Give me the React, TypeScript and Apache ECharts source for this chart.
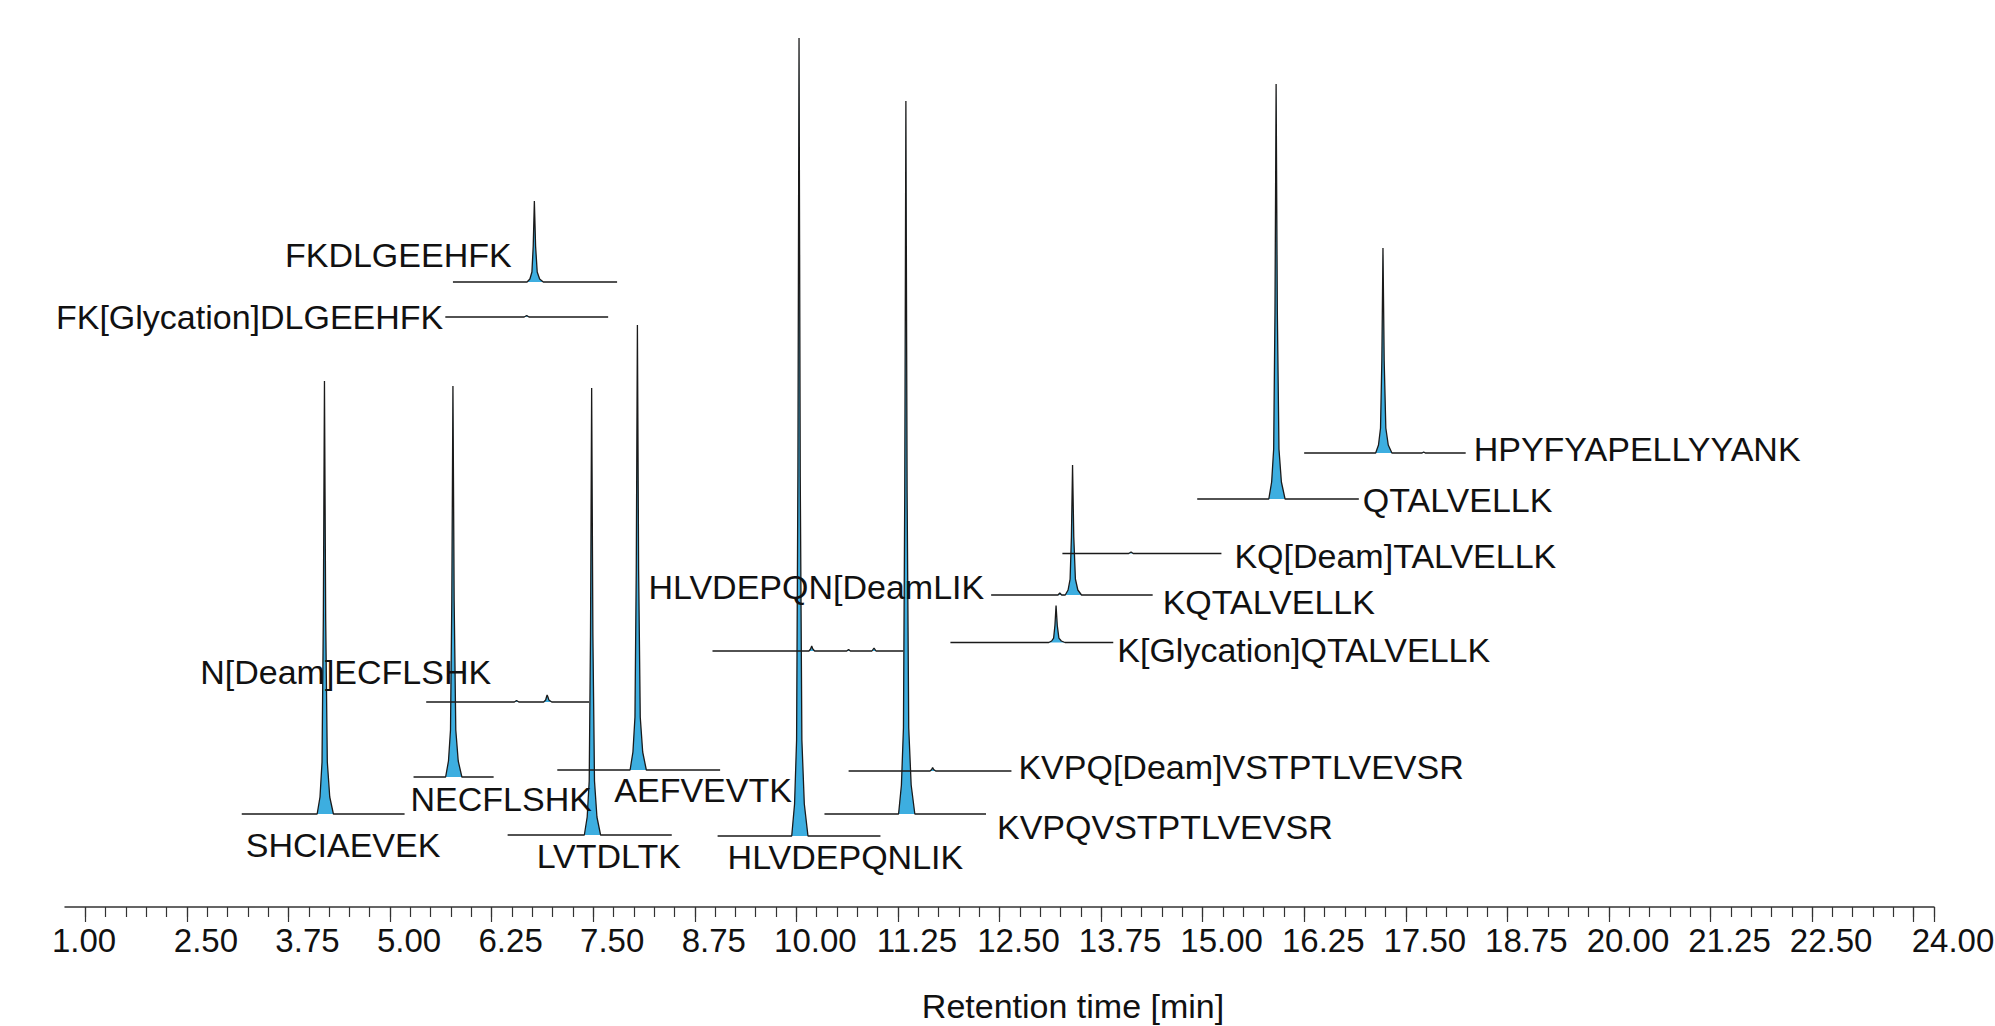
import React, { useEffect, useRef } from 'react';
import * as echarts from 'echarts';

const FONT = '"Liberation Sans", Arial, Helvetica, sans-serif';

// ---- Data: each trace is [retention time (min), intensity above its own baseline] ----
const SHCIAEVEK_TRACE = [[3.175, 0], [4.103, 0], [4.138, 17], [4.163, 52], [4.179, 195], [4.193, 433], [4.208, 195], [4.228, 52], [4.258, 17], [4.303, 0], [5.179, 0]];
const NECFLSHK_TRACE = [[5.289, 0], [5.684, 0], [5.719, 16], [5.744, 47], [5.76, 176], [5.774, 391], [5.789, 176], [5.809, 47], [5.839, 16], [5.884, 0], [6.275, 0]];
const N_DEAM_ECFLSHK_TRACE = [[5.445, 0], [6.53, 0], [6.557, 1.5], [6.585, 0], [6.89, 0], [6.915, 2], [6.925, 5], [6.933, 7], [6.943, 5], [6.955, 2], [6.99, 0], [7.449, 0]];
const FKDLGEEHFK_TRACE = [[5.774, 0], [6.686, 0], [6.721, 3], [6.746, 10], [6.762, 36], [6.776, 81], [6.791, 36], [6.811, 10], [6.841, 3], [6.886, 0], [7.794, 0]];
const FK_GLYC_DLGEEHFK_TRACE = [[5.68, 0], [6.65, 0], [6.682, 1.5], [6.71, 0], [7.684, 0]];
const LVTDLTK_TRACE = [[6.447, 0], [7.391, 0], [7.426, 18], [7.451, 54], [7.467, 201], [7.481, 447], [7.496, 201], [7.516, 54], [7.546, 18], [7.591, 0], [8.467, 0]];
const AEFVEVTK_TRACE = [[7.058, 0], [7.954, 0], [7.989, 18], [8.014, 53], [8.03, 200], [8.044, 445], [8.059, 200], [8.079, 53], [8.109, 18], [8.154, 0], [9.062, 0]];
const HLVDEPQNLIK_TRACE = [[9.031, 0], [9.943, 0], [9.978, 32], [10.003, 96], [10.019, 359], [10.033, 798], [10.048, 359], [10.068, 96], [10.098, 32], [10.143, 0], [11.035, 0]];
const HLVDEPQN_DEAM_TRACE = [[8.968, 0], [10.155, 0], [10.175, 2], [10.189, 5], [10.203, 2], [10.225, 0], [10.62, 0], [10.643, 1.5], [10.665, 0], [10.93, 0], [10.956, 3], [10.98, 0], [11.317, 0]];
const KVPQVSTPTLVEVSR_TRACE = [[10.346, 0], [11.258, 0], [11.293, 29], [11.318, 86], [11.334, 321], [11.348, 713], [11.363, 321], [11.383, 86], [11.413, 29], [11.458, 0], [12.334, 0]];
const KVPQ_DEAM_TRACE = [[10.643, 0], [11.645, 0], [11.665, 1.5], [11.677, 3.5], [11.69, 1.5], [11.715, 0], [12.647, 0]];
const K_GLYC_QTALVELLK_TRACE = [[11.896, 0], [13.106, 0], [13.141, 1.5], [13.166, 4.4], [13.182, 17], [13.196, 37], [13.211, 17], [13.231, 4.4], [13.261, 1.5], [13.306, 0], [13.9, 0]];
const KQTALVELLK_TRACE = [[12.397, 0], [13.22, 0], [13.242, 2], [13.265, 0], [13.309, 0], [13.344, 5], [13.369, 16], [13.385, 58], [13.399, 130], [13.414, 58], [13.434, 16], [13.464, 5], [13.509, 0], [14.385, 0]];
const KQ_DEAM_TRACE = [[13.274, 0], [14.09, 0], [14.119, 1.5], [14.145, 0], [15.231, 0]];
const QTALVELLK_TRACE = [[14.933, 0], [15.814, 0], [15.849, 17], [15.874, 50], [15.89, 187], [15.904, 415], [15.919, 187], [15.939, 50], [15.969, 17], [16.014, 0], [16.922, 0]];
const HPYFYAPELLYYANK_TRACE = [[16.249, 0], [17.129, 0], [17.164, 8], [17.189, 25], [17.205, 92], [17.219, 205], [17.234, 92], [17.254, 25], [17.284, 8], [17.329, 0], [17.7, 0], [17.72, 1], [17.74, 0], [18.237, 0]];

const PEPTIDES = [
  'SHCIAEVEK',
  'NECFLSHK',
  'N[Deam]ECFLSHK',
  'FKDLGEEHFK',
  'FK[Glycation]DLGEEHFK',
  'LVTDLTK',
  'AEFVEVTK',
  'HLVDEPQNLIK',
  'HLVDEPQN[DeamLIK',
  'KVPQVSTPTLVEVSR',
  'KVPQ[Deam]VSTPTLVEVSR',
  'K[Glycation]QTALVELLK',
  'KQTALVELLK',
  'KQ[Deam]TALVELLK',
  'QTALVELLK',
  'HPYFYAPELLYYANK',
];

const TRACES = [
  SHCIAEVEK_TRACE,
  NECFLSHK_TRACE,
  N_DEAM_ECFLSHK_TRACE,
  FKDLGEEHFK_TRACE,
  FK_GLYC_DLGEEHFK_TRACE,
  LVTDLTK_TRACE,
  AEFVEVTK_TRACE,
  HLVDEPQNLIK_TRACE,
  HLVDEPQN_DEAM_TRACE,
  KVPQVSTPTLVEVSR_TRACE,
  KVPQ_DEAM_TRACE,
  K_GLYC_QTALVELLK_TRACE,
  KQTALVELLK_TRACE,
  KQ_DEAM_TRACE,
  QTALVELLK_TRACE,
  HPYFYAPELLYYANK_TRACE,
];

// vertical offset of each trace's baseline (stacked display units)
const BASELINE_OFFSETS = [93, 130, 205, 625, 590, 72, 137, 71, 256, 93, 136, 264.5, 312, 353.5, 408, 454];

// axis ticks / labels
const X_MIN = 1;
const X_MAX = 24;
const MAJOR_TICKS = [1.25, 2.5, 3.75, 5, 6.25, 7.5, 8.75, 10, 11.25, 12.5, 13.75, 15, 16.25, 17.5, 18.75, 20, 21.25, 22.5, 23.75, 24];
const TICK_LABELS = [1, 2.5, 3.75, 5, 6.25, 7.5, 8.75, 10, 11.25, 12.5, 13.75, 15, 16.25, 17.5, 18.75, 20, 21.25, 22.5, 24];
const MINOR_STEP = 0.25;
const X_TITLE = 'Retention time [min]';

// label placement relative to a trace's baseline start/end (pixels)
const LABEL_LAYOUT = [
  { at: 'start', dx: 4, dy: 31, align: 'left' },
  { at: 'start', dx: -3, dy: 22, align: 'left' },
  { at: 'start', dx: -226, dy: -30, align: 'left' },
  { at: 'start', dx: -168, dy: -27, align: 'left' },
  { at: 'start', dx: -2, dy: 0, align: 'right' },
  { at: 'start', dx: 29, dy: 21, align: 'left' },
  { at: 'start', dx: 57, dy: 20, align: 'left' },
  { at: 'start', dx: 10, dy: 21, align: 'left' },
  { at: 'start', dx: -64, dy: -64, align: 'left' },
  { at: 'end', dx: 11, dy: 13, align: 'left' },
  { at: 'end', dx: 7, dy: -4, align: 'left' },
  { at: 'end', dx: 4, dy: 7, align: 'left' },
  { at: 'end', dx: 10, dy: 7, align: 'left' },
  { at: 'end', dx: 13, dy: 2, align: 'left' },
  { at: 'end', dx: 4, dy: 1, align: 'left' },
  { at: 'end', dx: 8, dy: -4, align: 'left' },
];

const minorTicks: number[] = [];
for (let k = Math.round(MAJOR_TICKS[0] / MINOR_STEP); k * MINOR_STEP <= X_MAX + 1e-9; k++) {
  minorTicks.push(k * MINOR_STEP);
}

export default function App() {
  const ref = useRef<HTMLDivElement>(null);

  useEffect(() => {
    const el = ref.current;
    if (!el) return;
    const chart = echarts.init(el, null, { renderer: 'svg' });

    const series = TRACES.map((tr, i) => ({
      type: 'line',
      name: PEPTIDES[i],
      data: tr.map(([t, v]) => [t, BASELINE_OFFSETS[i] + v]),
      showSymbol: false,
      symbol: 'none',
      silent: true,
      lineStyle: { color: '#1a1a1a', width: 1.3 },
      areaStyle: { color: '#3daee0', opacity: 1, origin: BASELINE_OFFSETS[i] },
      z: 2,
    }));

    const axisLabelColor = '#111';

    chart.setOption({
      animation: false,
      backgroundColor: '#ffffff',
      grid: { left: 65, right: 61, top: 7, bottom: 119, containLabel: false, outerBoundsMode: 'none' },
      xAxis: [
        {
          type: 'value',
          min: X_MIN,
          max: X_MAX,
          position: 'bottom',
          axisLine: { show: true, onZero: false, lineStyle: { color: '#333', width: 1.5 } },
          axisTick: { show: true, customValues: MAJOR_TICKS, length: 15, lineStyle: { color: '#333', width: 1.2 } },
          axisLabel: {
            show: true,
            customValues: TICK_LABELS,
            formatter: (v: number) => v.toFixed(2),
            fontSize: 33,
            fontFamily: FONT,
            color: axisLabelColor,
            margin: 17,
            padding: [0, 0, 0, 38],
          },
          splitLine: { show: false },
          name: X_TITLE,
          nameLocation: 'middle',
          nameGap: 82,
          nameTextStyle: { fontSize: 34, fontFamily: FONT, color: axisLabelColor, padding: [0, 0, 0, 147] },
        },
        {
          type: 'value',
          min: X_MIN,
          max: X_MAX,
          position: 'bottom',
          offset: 0,
          axisLine: { show: false, onZero: false },
          axisTick: { show: true, customValues: minorTicks, length: 10, lineStyle: { color: '#333', width: 1.2 } },
          axisLabel: { show: false },
          splitLine: { show: false },
        },
      ],
      yAxis: { type: 'value', min: 0, max: 900, show: false },
      series,
    });

    const graphics = PEPTIDES.map((name, i) => {
      const tr = TRACES[i];
      const lay = LABEL_LAYOUT[i];
      const t = lay.at === 'start' ? tr[0][0] : tr[tr.length - 1][0];
      const p = chart.convertToPixel({ seriesIndex: i }, [t, BASELINE_OFFSETS[i]]) as number[];
      return {
        type: 'text',
        x: p[0] + lay.dx,
        y: p[1] + lay.dy,
        silent: true,
        z: 10,
        style: {
          text: name,
          font: `34px ${FONT}`,
          fill: '#111',
          align: lay.align,
          verticalAlign: 'middle',
          textAlign: lay.align,
          textVerticalAlign: 'middle',
        },
      };
    });
    chart.setOption({ graphic: graphics });

    return () => {
      chart.dispose();
    };
  }, []);

  return (
    <div
      ref={ref}
      style={{ position: 'fixed', left: 0, top: 0, width: 1995, height: 1026, background: '#fff' }}
    />
  );
}
